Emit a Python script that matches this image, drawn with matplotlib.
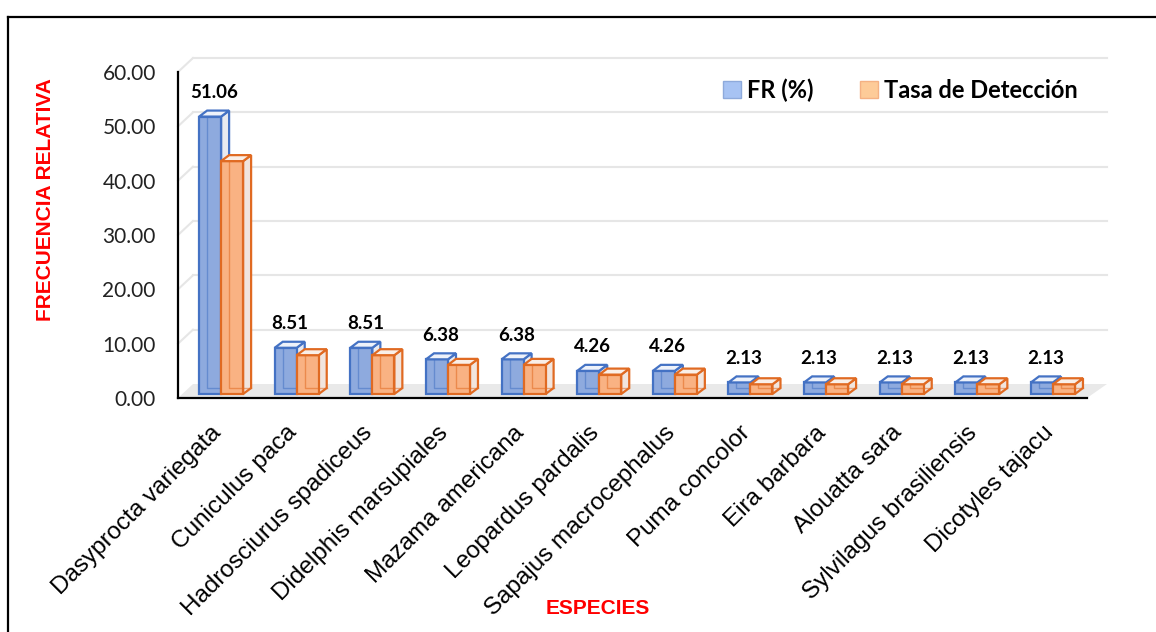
import numpy as np
import matplotlib
matplotlib.use('Agg')
import matplotlib.pyplot as plt
import matplotlib.transforms as mtransforms
from matplotlib.patches import Patch, Polygon
from matplotlib.lines import Line2D

plt.rcParams['font.family'] = ['Lato', 'DejaVu Sans']

# data
species = ['Dasyprocta variegata', 'Cuniculus paca', 'Hadrosciurus spadiceus',
           'Didelphis marsupiales', 'Mazama americana', 'Leopardus pardalis',
           'Sapajus macrocephalus', 'Puma concolor', 'Eira barbara',
           'Alouatta sara', 'Sylvilagus brasiliensis', 'Dicotyles tajacu']
fr = [51.06, 8.51, 8.51, 6.38, 6.38, 4.26, 4.26, 2.13, 2.13, 2.13, 2.13, 2.13]
tasa = [42.86, 7.14, 7.14, 5.36, 5.36, 3.57, 3.57, 1.79, 1.79, 1.79, 1.79, 1.79]
yticks = [0, 10, 20, 30, 40, 50, 60]

W, H = 1156, 632
fig = plt.figure(figsize=(W / 100, H / 100), dpi=100)
ax = fig.add_axes([178 / W, 1 - 398 / H, 909 / W, 326 / H])
x0, x1 = -0.57, 11.45
ax.set_xlim(x0, x1)
ax.set_ylim(0, 60)

# pixel -> data unit scales
sx = 909 / (x1 - x0)
sy = 326 / 60
bw = 22 / sx
dpx, dpy = 8 / sx, 6 / sy      # bar depth
wdx, wdy = 15 / sx, 14 / sy    # wall depth
fdx = 20 / sx
base = 4 / sy

x = np.arange(len(species))

# floor and walls
floor = Polygon([(x0, 0), (x1, 0), (x1 + fdx, wdy), (x0 + wdx, wdy)], closed=True,
                facecolor='#e9e9e9', edgecolor='none', zorder=0, clip_on=False)
ax.add_patch(floor)
for t in yticks[1:]:
    ax.plot([x0, x0 + wdx], [t, t + wdy], color='#e6e6e6', lw=1.5, zorder=0, clip_on=False)
    ax.plot([x0 + wdx, x1 + fdx], [t + wdy, t + wdy], color='#e6e6e6', lw=1.5, zorder=0, clip_on=False)


def bars3d(xs, vals, face, edge, side, top, z):
    bars = ax.bar(xs, vals, width=bw, bottom=base, align='edge', color=face,
                  edgecolor=edge, lw=1.6, zorder=z + 0.2)
    for r in bars:
        a, b, w, h = r.get_x(), r.get_y(), r.get_width(), r.get_height()
        # back edges seen through
        ax.plot([a + dpx, a + dpx, a + w + dpx], [b + h + dpy, b + dpy, b + dpy],
                color=edge, lw=1.0, alpha=0.55, zorder=z + 0.3)
        ax.add_patch(Polygon([(a + w, b), (a + w + dpx, b + dpy), (a + w + dpx, b + h + dpy), (a + w, b + h)],
                             closed=True, facecolor=side, edgecolor=edge, lw=1.6, zorder=z + 0.1))
        ax.add_patch(Polygon([(a, b + h), (a + w, b + h), (a + w + dpx, b + h + dpy), (a + dpx, b + h + dpy)],
                             closed=True, facecolor=top, edgecolor=edge, lw=1.6, zorder=z + 0.4))
    return bars


b1 = bars3d(x - bw, fr, '#8eaade', '#4472c4', '#e8eaf0', '#eef2fa', 3)
b2 = bars3d(x, tasa, '#f9b283', '#e06a22', '#f1e5de', '#f9efe8', 4)

for r, v in zip(b1, fr):
    ax.annotate(f'{v:.2f}', xy=(r.get_x() + r.get_width() / 2 + dpx / 2, r.get_y() + r.get_height()),
                xytext=(0, 17.5), textcoords='offset points', ha='center', va='center',
                fontsize=13.5, fontweight='bold', color='black', zorder=6)

# axes styling
for s in ['top', 'right']:
    ax.spines[s].set_visible(False)
for s in ['left', 'bottom']:
    ax.spines[s].set_color('black')
    ax.spines[s].set_linewidth(1.6)
    ax.spines[s].set_zorder(5)

ax.set_yticks(yticks)
ax.set_yticklabels([f'{t:.2f}' for t in yticks], fontsize=15, color='#222222')
ax.tick_params(axis='y', length=0, pad=16)
ax.set_xticks(x)
ax.set_xticklabels(species, rotation=45, ha='right', rotation_mode='anchor',
                   fontsize=17.5, family='Liberation Sans', color='black')
ax.tick_params(axis='x', length=0, pad=17)
shift = mtransforms.ScaledTranslation(-0.11, 0, fig.dpi_scale_trans)
for lab in ax.get_xticklabels():
    lab.set_transform(lab.get_transform() + shift)
ax.patch.set_visible(False)

fig.text(46 / W, 1 - 200 / H, 'FRECUENCIA RELATIVA', rotation=90, ha='center', va='center',
         color='#ff0000', fontsize=15, fontweight='bold', family='Liberation Sans')
fig.text(598 / W, 1 - 608 / H, 'ESPECIES', ha='center', va='center',
         color='#ff0000', fontsize=15, fontweight='bold', family='Liberation Sans')

handles = [Patch(facecolor='#a7c3f3', edgecolor='#8eaadb'),
           Patch(facecolor='#fdcb98', edgecolor='#f4b183')]
fig.legend(handles, ['FR (%)', 'Tasa de Detección'], loc='center left',
           bbox_to_anchor=(723 / W, 1 - 90 / H), ncol=2, frameon=False,
           prop={'family': 'Lato', 'weight': 'bold', 'size': 17},
           handlelength=0.75, handleheight=0.75, handletextpad=0.25,
           columnspacing=2.0, borderpad=0, borderaxespad=0)

# outer frame
fig.add_artist(Line2D([8 / W, 1], [1 - 17 / H, 1 - 17 / H], color='black', lw=1.6))
fig.add_artist(Line2D([8 / W, 8 / W], [0, 1 - 17 / H], color='black', lw=1.6))

fig.savefig('out.png', dpi=100)
